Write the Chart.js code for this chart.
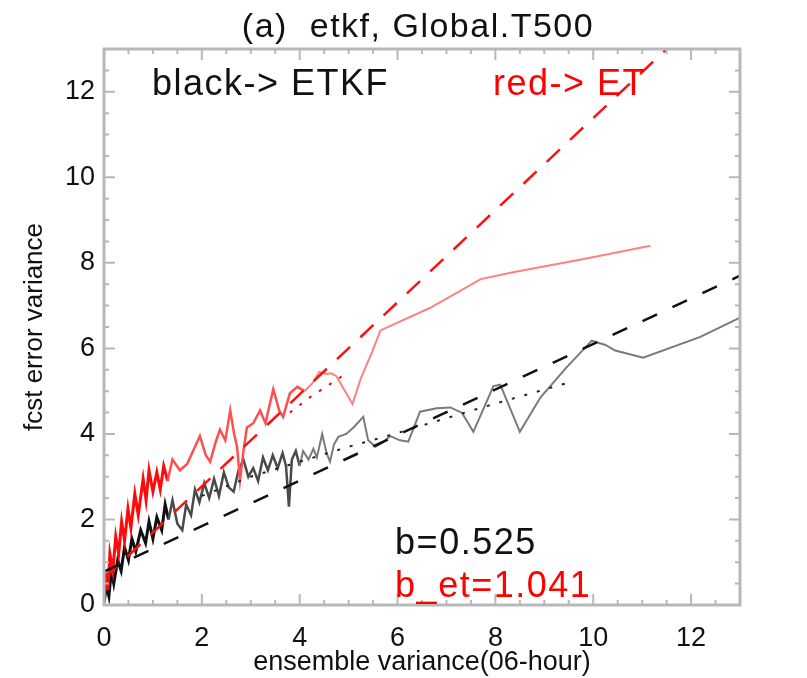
<!DOCTYPE html>
<html>
<head>
<meta charset="utf-8">
<script src="https://cdn.jsdelivr.net/npm/chart.js@4.4.1/dist/chart.umd.min.js"></script>
<style>
    html, body { margin: 0; padding: 0; background: #fff; }
    #wrap { width: 807px; height: 678px; }
</style>
</head>
<body>
<div id="wrap"><canvas id="chart" width="807" height="678"></canvas></div>
<script>
// Axis ticks (labels every 2, minor marks every 0.5)
const xTickValues = [0, 2, 4, 6, 8, 10, 12];
const yTickValues = [0, 2, 4, 6, 8, 10, 12];
const axisMax = 13;
const minorStep = 0.5;

// ETKF (black): fcst error variance vs ensemble variance
const etkfX = [0.00, 0.05, 0.10, 0.15, 0.20, 0.28, 0.35, 0.42, 0.50, 0.57, 0.65, 0.75, 0.85, 0.92, 1.00,
    1.08, 1.18, 1.25, 1.32, 1.40, 1.50, 1.60, 1.68, 1.78, 1.86, 1.95, 2.05, 2.15, 2.25, 2.35, 2.45,
    2.55, 2.65, 2.75, 2.85, 2.95, 3.05, 3.15, 3.25, 3.35, 3.45, 3.55, 3.65, 3.72, 3.78, 3.84, 3.92,
    4.00, 4.07, 4.18, 4.28, 4.35, 4.46, 4.55, 4.62, 4.70, 4.79, 4.95, 5.10, 5.30, 5.40, 5.55, 5.70,
    5.85, 6.05, 6.22, 6.46, 6.80, 7.08, 7.32, 7.55, 7.96, 8.10, 8.50, 8.92, 9.45, 9.97, 10.25, 10.45,
    11.02, 12.19, 13.00];
const etkfY = [0.05, 0.45, 0.20, 0.80, 0.50, 1.05, 0.80, 1.35, 1.05, 1.55, 1.25, 1.75, 1.45, 1.95, 1.55,
    2.05, 1.75, 2.35, 2.00, 2.45, 1.90, 1.75, 2.35, 2.10, 2.70, 2.40, 2.85, 2.50, 2.95, 2.55, 3.10,
    2.75, 2.65, 3.15, 3.40, 3.00, 3.20, 2.90, 3.45, 3.15, 3.50, 3.20, 3.55, 3.25, 2.30, 3.40, 3.60,
    3.25, 3.60, 3.40, 3.65, 3.45, 4.00, 3.55, 3.35, 3.75, 3.93, 4.00, 4.15, 4.40, 3.85, 3.70, 3.80,
    3.95, 3.85, 3.82, 4.52, 4.60, 4.62, 4.49, 4.05, 5.12, 5.15, 4.05, 4.85, 5.55, 6.18, 6.08, 5.95,
    5.78, 6.27, 6.72];

// ET (red)
const etX = [0.00, 0.04, 0.08, 0.12, 0.18, 0.24, 0.30, 0.36, 0.42, 0.49, 0.55, 0.63, 0.70, 0.80, 0.86,
    0.92, 1.00, 1.08, 1.15, 1.22, 1.30, 1.40, 1.55, 1.70, 1.82, 1.96, 2.08, 2.17, 2.28, 2.37, 2.48,
    2.58, 2.66, 2.72, 2.78, 2.85, 2.92, 3.05, 3.19, 3.30, 3.46, 3.58, 3.66, 3.80, 3.95, 4.10, 4.27,
    4.40, 4.55, 4.65, 4.75, 5.08, 5.25, 5.48, 5.65, 6.67, 7.70, 8.36, 9.73, 11.17];
const etY = [0.10, 0.75, 0.35, 1.20, 0.80, 1.60, 1.20, 1.95, 1.50, 2.25, 1.80, 2.60, 2.10, 2.95, 2.45,
    3.15, 2.65, 3.10, 2.70, 3.25, 2.90, 3.40, 3.15, 3.30, 3.60, 3.95, 3.50, 3.35, 3.80, 4.10, 3.85,
    4.55, 4.00, 3.70, 2.92, 3.60, 4.15, 4.25, 4.55, 4.25, 5.05, 4.55, 4.40, 4.95, 5.10, 5.00, 5.20,
    5.45, 5.40, 5.42, 5.35, 4.70, 5.30, 5.92, 6.42, 6.95, 7.62, 7.78, 8.07, 8.40];

// Regression lines (dashed)
const etkfFitX = [0, 13];
const etkfFitY = [0.78, 7.70];
const etFitX = [0, 11.5];
const etFitY = [0.62, 13.0];

// Dotted curves
const etkfDotX = [2.0, 3.0, 4.0, 5.0, 6.0, 7.0, 8.0, 9.5];
const etkfDotY = [2.55, 3.00, 3.35, 3.70, 4.02, 4.37, 4.71, 5.20];
const etDotX = [3.8, 4.2, 4.6, 5.0];
const etDotY = [4.50, 4.85, 5.15, 5.45];

const FONT = '"Liberation Sans", Arial, sans-serif';
const pairs = (xs, ys) => xs.map((x, i) => ({ x, y: ys[i] }));

// inward ticks on all four sides plus the frame
const frameTicks = {
    id: 'frameTicks',
    afterDatasetsDraw(chart) {
        const { ctx, chartArea: a, scales: { x, y } } = chart;
        ctx.save();
        ctx.strokeStyle = '#b8b8b8';
        ctx.lineWidth = 3;
        ctx.strokeRect(a.left, a.top, a.right - a.left, a.bottom - a.top);
        ctx.lineWidth = 2;
        ctx.beginPath();
        for (let v = 0; v <= axisMax + 1e-9; v += minorStep) {
            const len = v % 2 === 0 ? 11 : 5;
            const px = x.getPixelForValue(v);
            const py = y.getPixelForValue(v);
            ctx.moveTo(px, a.bottom); ctx.lineTo(px, a.bottom - len);
            ctx.moveTo(px, a.top); ctx.lineTo(px, a.top + len);
            ctx.moveTo(a.left, py); ctx.lineTo(a.left + len, py);
            ctx.moveTo(a.right, py); ctx.lineTo(a.right - len, py);
        }
        ctx.stroke();
        ctx.restore();
    }
};

const notes = [
    { text: 'black-> ETKF', x: 0.98, y: 11.92, color: '#111' },
    { text: 'red-> ET', x: 7.95, y: 11.92, color: '#ff0000' },
    { text: 'b=0.525', x: 5.95, y: 1.19, color: '#111' },
    { text: 'b_et=1.041', x: 5.95, y: 0.19, color: '#ff0000' }
];

const textLabels = {
    id: 'textLabels',
    afterDraw(chart) {
        const { ctx, chartArea: a, scales: { x, y } } = chart;
        ctx.save();
        ctx.textBaseline = 'alphabetic';
        ctx.letterSpacing = '1.5px';
        ctx.fillStyle = '#111';
        ctx.textAlign = 'center';
        ctx.font = `34px ${FONT}`;
        ctx.fillText('(a)  etkf, Global.T500', (a.left + a.right) / 2 - 4, 37);
        ctx.textAlign = 'left';
        ctx.font = `36px ${FONT}`;
        notes.forEach(n => {
            ctx.fillStyle = n.color;
            ctx.fillText(n.text, x.getPixelForValue(n.x), y.getPixelForValue(n.y));
        });
        ctx.restore();
    }
};

// denser (brighter, thicker) near the origin where many bins overlap
const byX = (near, mid, far, a, b) => c => c.p0.parsed.x < a ? near : (c.p0.parsed.x < b ? mid : far);

new Chart(document.getElementById('chart'), {
    type: 'line',
    data: {
        datasets: [
            {
                data: pairs(etkfFitX, etkfFitY),
                borderColor: '#111', borderWidth: 2.5, borderDash: [16, 17]
            },
            {
                data: pairs(etFitX, etFitY),
                borderColor: '#ff1010', borderWidth: 2.5, borderDash: [18, 14]
            },
            {
                data: pairs(etkfDotX, etkfDotY),
                borderColor: '#222', borderWidth: 2, borderDash: [3, 10]
            },
            {
                data: pairs(etDotX, etDotY),
                borderColor: '#ff0000', borderWidth: 2, borderDash: [3, 9]
            },
            {
                data: pairs(etX, etY),
                borderColor: '#ff8080', borderWidth: 2,
                segment: {
                    borderColor: byX('#ff0a0a', '#ff5050', '#ff8080', 1.3, 4.0),
                    borderWidth: byX(3, 2.5, 2, 1.3, 4.0)
                }
            },
            {
                data: pairs(etkfX, etkfY),
                borderColor: '#7a7a7a', borderWidth: 2,
                segment: {
                    borderColor: byX('#111111', '#4a4a4a', '#7a7a7a', 1.3, 4.0),
                    borderWidth: byX(3, 2.5, 2, 1.3, 4.0)
                }
            }
        ]
    },
    options: {
        responsive: false,
        animation: false,
        layout: { padding: { left: 0, right: 67, top: 49, bottom: 0 } },
        elements: { point: { radius: 0 }, line: { tension: 0 } },
        plugins: { legend: { display: false }, tooltip: { enabled: false } },
        scales: {
            x: {
                type: 'linear', min: 0, max: axisMax,
                grid: { display: false, drawTicks: false },
                border: { display: false },
                afterBuildTicks: s => { s.ticks = xTickValues.map(v => ({ value: v })); },
                afterFit: s => { s.height = 73; },
                ticks: { autoSkip: false, maxRotation: 0, padding: 17, color: '#111', font: { family: FONT, size: 27 } },
                title: {
                    display: true, text: 'ensemble variance(06-hour)', color: '#111',
                    font: { family: FONT, size: 27, lineHeight: 1 }, padding: { top: 0, bottom: 2 }
                }
            },
            y: {
                type: 'linear', min: 0, max: axisMax,
                grid: { display: false, drawTicks: false },
                border: { display: false },
                afterBuildTicks: s => { s.ticks = yTickValues.map(v => ({ value: v })); },
                afterFit: s => { s.width = 104; },
                ticks: { autoSkip: false, padding: 9, color: '#111', font: { family: FONT, size: 27 } },
                title: {
                    display: true, text: 'fcst error variance', color: '#111',
                    font: { family: FONT, size: 26, lineHeight: 1 }, padding: { top: 22, bottom: 0 }
                }
            }
        }
    },
    plugins: [frameTicks, textLabels]
});
</script>
</body>
</html>
